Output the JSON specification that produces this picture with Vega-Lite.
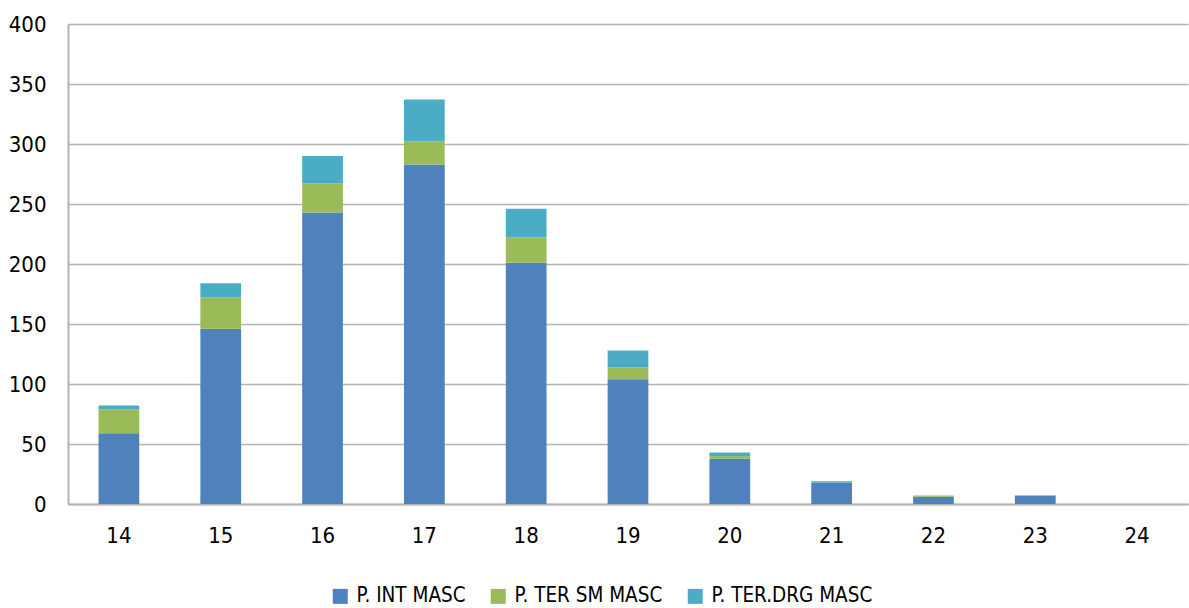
{
  "$schema": "https://vega.github.io/schema/vega-lite/v6.json",
  "width": 1120,
  "height": 480,
  "autosize": {"type": "none"},
  "padding": {"left": 68, "top": 24, "right": 1, "bottom": 104},
  "background": "white",
  "config": {
    "view": {"stroke": null},
    "font": "'DejaVu Sans Condensed', Roboto",
    "axis": {"labelFont": "'DejaVu Sans Condensed', Roboto", "labelFontSize": 22, "labelColor": "#000000"},
    "legend": {"labelFont": "'DejaVu Sans Condensed', Roboto", "labelFontSize": 20.5, "labelColor": "#000000"}
  },
  "data": {
    "values": [
      {"age": "14", "serie": "P. INT MASC", "k": 1, "v": 59},
      {"age": "14", "serie": "P. TER SM MASC", "k": 2, "v": 20},
      {"age": "14", "serie": "P. TER.DRG MASC", "k": 3, "v": 3},
      {"age": "15", "serie": "P. INT MASC", "k": 1, "v": 146},
      {"age": "15", "serie": "P. TER SM MASC", "k": 2, "v": 26},
      {"age": "15", "serie": "P. TER.DRG MASC", "k": 3, "v": 12},
      {"age": "16", "serie": "P. INT MASC", "k": 1, "v": 243},
      {"age": "16", "serie": "P. TER SM MASC", "k": 2, "v": 24},
      {"age": "16", "serie": "P. TER.DRG MASC", "k": 3, "v": 23},
      {"age": "17", "serie": "P. INT MASC", "k": 1, "v": 283},
      {"age": "17", "serie": "P. TER SM MASC", "k": 2, "v": 19},
      {"age": "17", "serie": "P. TER.DRG MASC", "k": 3, "v": 35},
      {"age": "18", "serie": "P. INT MASC", "k": 1, "v": 201},
      {"age": "18", "serie": "P. TER SM MASC", "k": 2, "v": 21},
      {"age": "18", "serie": "P. TER.DRG MASC", "k": 3, "v": 24},
      {"age": "19", "serie": "P. INT MASC", "k": 1, "v": 104},
      {"age": "19", "serie": "P. TER SM MASC", "k": 2, "v": 10},
      {"age": "19", "serie": "P. TER.DRG MASC", "k": 3, "v": 14},
      {"age": "20", "serie": "P. INT MASC", "k": 1, "v": 38},
      {"age": "20", "serie": "P. TER SM MASC", "k": 2, "v": 2},
      {"age": "20", "serie": "P. TER.DRG MASC", "k": 3, "v": 3},
      {"age": "21", "serie": "P. INT MASC", "k": 1, "v": 18},
      {"age": "21", "serie": "P. TER SM MASC", "k": 2, "v": 0},
      {"age": "21", "serie": "P. TER.DRG MASC", "k": 3, "v": 1},
      {"age": "22", "serie": "P. INT MASC", "k": 1, "v": 6},
      {"age": "22", "serie": "P. TER SM MASC", "k": 2, "v": 1},
      {"age": "22", "serie": "P. TER.DRG MASC", "k": 3, "v": 0},
      {"age": "23", "serie": "P. INT MASC", "k": 1, "v": 7},
      {"age": "23", "serie": "P. TER SM MASC", "k": 2, "v": 0},
      {"age": "23", "serie": "P. TER.DRG MASC", "k": 3, "v": 0},
      {"age": "24", "serie": "P. INT MASC", "k": 1, "v": 0},
      {"age": "24", "serie": "P. TER SM MASC", "k": 2, "v": 0},
      {"age": "24", "serie": "P. TER.DRG MASC", "k": 3, "v": 0}
    ]
  },
  "mark": {"type": "bar"},
  "encoding": {
    "x": {
      "field": "age", "type": "ordinal", "title": null,
      "scale": {"paddingInner": 0.6, "paddingOuter": 0.3},
      "axis": {"labelAngle": 0, "ticks": false, "domainColor": "#b3b3b3", "domainWidth": 2, "labelPadding": 21}
    },
    "y": {
      "field": "v", "type": "quantitative", "aggregate": "sum", "title": null, "stack": "zero",
      "scale": {"domain": [0, 400], "nice": false},
      "axis": {"values": [0, 50, 100, 150, 200, 250, 300, 350, 400], "ticks": false, "domainColor": "#b3b3b3", "domainWidth": 2, "gridColor": "#b3b3b3", "gridWidth": 1.5, "labelPadding": 22}
    },
    "color": {
      "field": "serie", "type": "nominal", "title": null,
      "scale": {"domain": ["P. INT MASC", "P. TER SM MASC", "P. TER.DRG MASC"], "range": ["#4F81BD", "#9BBB59", "#4BACC6"]},
      "legend": {"orient": "none", "legendX": 262, "legendY": 562, "direction": "horizontal", "symbolType": "square", "symbolSize": 225, "symbolStrokeWidth": 0, "columnPadding": 22, "labelLimit": 300, "labelOffset": 6}
    },
    "order": {"field": "k", "type": "quantitative", "sort": "ascending"}
  }
}
